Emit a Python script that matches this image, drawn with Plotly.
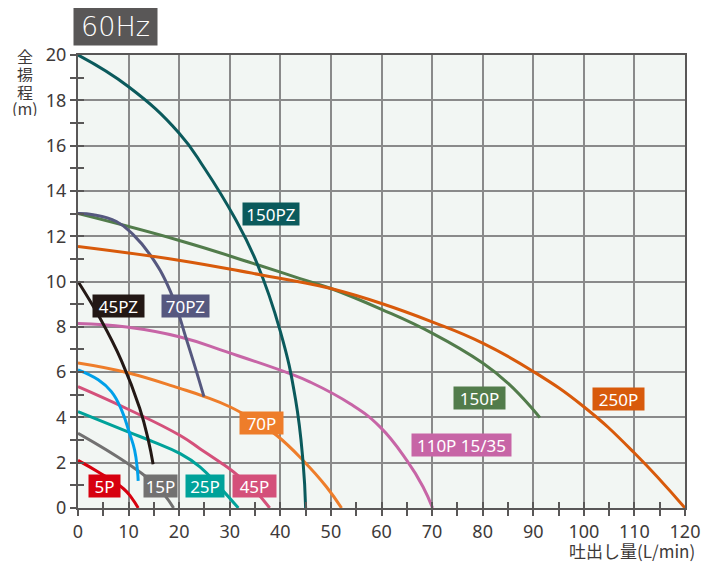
import plotly.graph_objects as go

# ---------------- data ----------------
flow_150pz = [0, 10, 20, 25, 31, 35.3, 40, 43, 44.5, 45]
head_150pz = [20, 18.6, 16.55, 15.0, 12.8, 10.85, 7.8, 4.8, 2.0, 0]

flow_70pz = [0, 3, 7.6, 11, 14.2, 18.2, 21.5, 24.9]
head_70pz = [13.0, 12.95, 12.65, 12.05, 11.2, 9.6, 7.4, 4.92]

flow_45pz = [0, 4.3, 8.6, 12.2, 13.9, 14.85]
head_45pz = [10.0, 8.4, 6.5, 4.4, 3.0, 1.93]

flow_25pz = [0, 4, 6.6, 8.6, 10.2, 11.2, 11.75, 11.9]
head_25pz = [6.1, 5.66, 5.14, 4.33, 3.29, 2.55, 1.66, 1.2]

flow_150p = [0, 20.2, 34.6, 43.9, 50, 60, 70, 80, 85, 90, 91.3]
head_150p = [13.0, 11.8, 10.8, 10.13, 9.69, 8.77, 7.72, 6.4, 5.51, 4.34, 3.99]

flow_250p = [0, 20.2, 36, 43.9, 50, 60, 70, 80, 90, 100, 110, 120]
head_250p = [11.55, 10.93, 10.3, 9.98, 9.69, 9.03, 8.22, 7.28, 6.03, 4.47, 2.43, 0]

flow_110p = [0, 9.6, 20.2, 29.4, 41.9, 45.8, 53.8, 59.7, 65, 68.2, 70.1]
head_110p = [8.15, 7.99, 7.55, 6.89, 5.93, 5.57, 4.6, 3.58, 2.1, 0.94, 0]

flow_70p = [0, 10, 20, 25, 30, 35, 39.3, 44.5, 49.1, 52.1]
head_70p = [6.4, 5.96, 5.29, 4.92, 4.47, 3.85, 3.2, 2.1, 0.94, 0]

flow_45p = [0, 9.9, 20.2, 24.1, 28.1, 30.7, 34.5, 37.9]
head_45p = [5.36, 4.36, 3.2, 2.62, 2.02, 1.6, 0.88, 0]

flow_25p = [0, 9.9, 14.9, 20.2, 24.1, 28.1, 31.7]
head_25p = [4.25, 3.36, 2.92, 2.4, 1.82, 0.9, 0]

flow_15p = [0, 9.9, 15.5, 18.9]
head_15p = [3.3, 1.95, 0.98, 0]

flow_5p = [0, 4, 9, 10.6, 11.9]
head_5p = [2.1, 1.59, 0.85, 0.45, 0]

x_ticks = [0, 10, 20, 30, 40, 50, 60, 70, 80, 90, 100, 110, 120]
y_ticks = [0, 2, 4, 6, 8, 10, 12, 14, 16, 18, 20]

# ---------------- styles ----------------
series = [
    ("5P", flow_5p, head_5p, "#d7000f"),
    ("15P", flow_15p, head_15p, "#727171"),
    ("25P", flow_25p, head_25p, "#00a29a"),
    ("45P", flow_45p, head_45p, "#d4507a"),
    ("70P", flow_70p, head_70p, "#ee7d2a"),
    ("110P 15/35", flow_110p, head_110p, "#c765a6"),
    ("250P", flow_250p, head_250p, "#d85a0b"),
    ("150P", flow_150p, head_150p, "#527c4b"),
    ("25PZ", flow_25pz, head_25pz, "#00a0e9"),
    ("45PZ", flow_45pz, head_45pz, "#231815"),
    ("70PZ", flow_70pz, head_70pz, "#56587f"),
    ("150PZ", flow_150pz, head_150pz, "#0b5a5c"),
]

# label placement (x, y in data units, box width px)
label_pos = {
    "150PZ": (38.1, 13.0, 56),
    "45PZ": (8.0, 8.92, 51),
    "70PZ": (21.2, 8.9, 47),
    "25PZ": (-3.66, 6.08, 49),
    "5P": (5.3, 0.95, 31),
    "15P": (16.3, 0.95, 33),
    "25P": (25.1, 0.95, 38),
    "45P": (34.9, 0.97, 43),
    "70P": (36.2, 3.77, 43),
    "110P 15/35": (75.9, 2.76, 99),
    "150P": (79.3, 4.85, 51),
    "250P": (106.9, 4.83, 51),
}

fig = go.Figure()
for name, fx, hy, col in series:
    fig.add_trace(go.Scatter(
        x=fx, y=hy, mode="lines", name=name,
        line=dict(color=col, width=3, shape="spline", smoothing=1.3),
        hoverinfo="skip", showlegend=False,
        xaxis="x2" if name == "250P" else "x",
        yaxis="y2" if name == "250P" else "y",
    ))

annotations = []
for name, fx, hy, col in series:
    lx, ly, w = label_pos[name]
    annotations.append(dict(
        x=lx, y=ly, xref="x", yref="y", text=name, showarrow=False,
        bgcolor=col, width=w, height=22, borderpad=0,
        font=dict(family="Noto Sans", size=17, color="white"),
        xanchor="center", yanchor="middle",
    ))

# title box
annotations.append(dict(
    x=0.0626, y=1.063, xref="paper", yref="paper", text="60Hz", showarrow=False,
    bgcolor="#595757", width=83, height=37, borderpad=0,
    font=dict(family="DejaVu Sans", size=27, color="white", weight=200),
    xanchor="center", yanchor="middle",
))

# y-axis title, stacked vertically
for txt, py in [("全", 0.998), ("揚", 0.959), ("程", 0.9205), ("(m)", 0.884)]:
    annotations.append(dict(
        x=-0.0873, y=py, xref="paper", yref="paper", text=txt, showarrow=False,
        font=dict(family="Noto Sans CJK JP", size=16, color="#3e3a39"),
        xanchor="center", yanchor="middle", height=17,
    ))

# x-axis title
annotations.append(dict(
    x=1.0198, y=-0.094, xref="paper", yref="paper", text="吐出し量(L/min)",
    showarrow=False, font=dict(family="Noto Sans CJK JP", size=17, color="#3e3a39"),
    xanchor="right", yanchor="middle",
))

tickfont = dict(family="Noto Sans", size=18, color="#3e3a39")
grid_col = "#8a8a8a"
line_col = "#595757"

# page body adds an 8px margin, so the figure is 8px smaller than the window
fig.update_layout(
    width=710, height=555,
    margin=dict(l=70, r=33, t=47, b=55),
    paper_bgcolor="white",
    plot_bgcolor="#f2f6f3",
    annotations=annotations,
    xaxis=dict(
        range=[0, 120], tickmode="array", tickvals=x_ticks,
        ticktext=[str(v) for v in x_ticks],
        showgrid=True, gridcolor=grid_col, gridwidth=1.5,
        showline=True, linecolor=line_col, linewidth=2, mirror=True,
        ticks="outside", ticklen=6, tickwidth=2, tickcolor=line_col,
        minor=dict(dtick=5, tick0=0, ticks="outside", ticklen=6, tickwidth=2,
                   tickcolor=line_col, showgrid=False),
        tickfont=tickfont, zeroline=False,
    ),
    yaxis=dict(
        range=[0, 20], tickmode="array", tickvals=y_ticks,
        ticktext=[str(v) for v in y_ticks],
        showgrid=True, gridcolor=grid_col, gridwidth=1.5,
        showline=True, linecolor=line_col, linewidth=2, mirror=True,
        ticks="outside", ticklen=6, tickwidth=2, tickcolor=line_col,
        minor=dict(dtick=1, tick0=0, ticks="outside", ticklen=6, tickwidth=2,
                   tickcolor=line_col, showgrid=False),
        tickfont=tickfont, zeroline=False,
    ),
    xaxis2=dict(
        range=[0, 120], overlaying="x", anchor="y2", side="bottom",
        dtick=5, tick0=0, ticks="inside", ticklen=6, tickwidth=2,
        tickcolor=line_col, showticklabels=False, showgrid=False,
        showline=False, zeroline=False,
    ),
    yaxis2=dict(
        range=[0, 20], overlaying="y", anchor="x2", side="left",
        dtick=1, tick0=0, ticks="inside", ticklen=6, tickwidth=2,
        tickcolor=line_col, showticklabels=False, showgrid=False,
        showline=False, zeroline=False,
    ),
)

fig.write_html("out.html")
